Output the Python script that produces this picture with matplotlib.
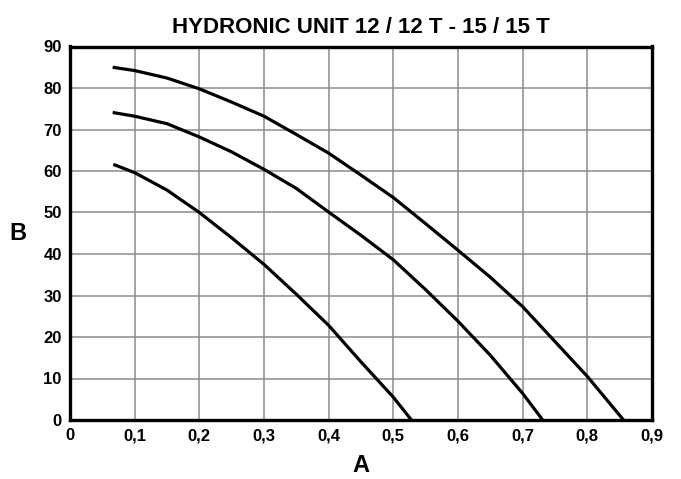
import matplotlib
matplotlib.use("Agg")
import matplotlib.pyplot as plt
from matplotlib.ticker import FuncFormatter

plt.rcParams['font.family'] = ['Liberation Sans Narrow', 'Liberation Sans', 'DejaVu Sans']
plt.rcParams['font.weight'] = 'bold'

# curve data (flow A, head B)
x_top = [0.066, 0.1, 0.15, 0.2, 0.25, 0.3, 0.35, 0.4, 0.45, 0.5, 0.55, 0.6, 0.65, 0.7, 0.75, 0.8, 0.856]
y_top = [85.0, 84.2, 82.4, 79.8, 76.6, 73.2, 68.8, 64.3, 59.0, 53.6, 47.3, 40.9, 34.4, 27.3, 18.9, 10.5, 0.0]

x_mid = [0.066, 0.1, 0.15, 0.2, 0.25, 0.3, 0.35, 0.4, 0.45, 0.5, 0.55, 0.6, 0.65, 0.7, 0.731]
y_mid = [74.1, 73.2, 71.4, 68.2, 64.6, 60.4, 55.8, 50.1, 44.5, 38.6, 31.4, 23.8, 15.6, 6.4, 0.0]

x_low = [0.067, 0.1, 0.15, 0.2, 0.25, 0.3, 0.35, 0.4, 0.45, 0.5, 0.528]
y_low = [61.6, 59.6, 55.4, 50.0, 43.9, 37.5, 30.3, 22.8, 14.0, 5.5, 0.0]

x_ticks = [0, 0.1, 0.2, 0.3, 0.4, 0.5, 0.6, 0.7, 0.8, 0.9]
y_ticks = [0, 10, 20, 30, 40, 50, 60, 70, 80, 90]

fig = plt.figure(figsize=(6.81, 4.79), dpi=100)
ax = fig.add_axes([70 / 681, 1 - 420 / 479, 582 / 681, 373.5 / 479])

for xs, ys in [(x_top, y_top), (x_mid, y_mid), (x_low, y_low)]:
    ax.plot(xs, ys, color='black', lw=2.3, solid_capstyle='butt', solid_joinstyle='round', zorder=3)

ax.set_xlim(0, 0.9)
ax.set_ylim(0, 90)
ax.set_xticks(x_ticks)
ax.set_yticks(y_ticks)
ax.xaxis.set_major_formatter(FuncFormatter(lambda v, p: ('%g' % round(v, 1)).replace('.', ',')))
ax.tick_params(length=0, labelsize=12, pad=6)
ax.grid(True, color='#8c8c8c', lw=1.1)
ax.set_axisbelow(True)
for s in ax.spines.values():
    s.set_linewidth(2.4)
    s.set_zorder(4)

ax.set_xlabel('A', fontsize=17, fontweight='bold', labelpad=8)
ax.set_ylabel('B', fontsize=17, fontweight='bold', rotation=0, labelpad=18, va='center')
ax.set_title('HYDRONIC UNIT 12 / 12 T - 15 / 15 T', fontsize=16, fontweight='bold', pad=10)

fig.savefig('out.png', dpi=100)
